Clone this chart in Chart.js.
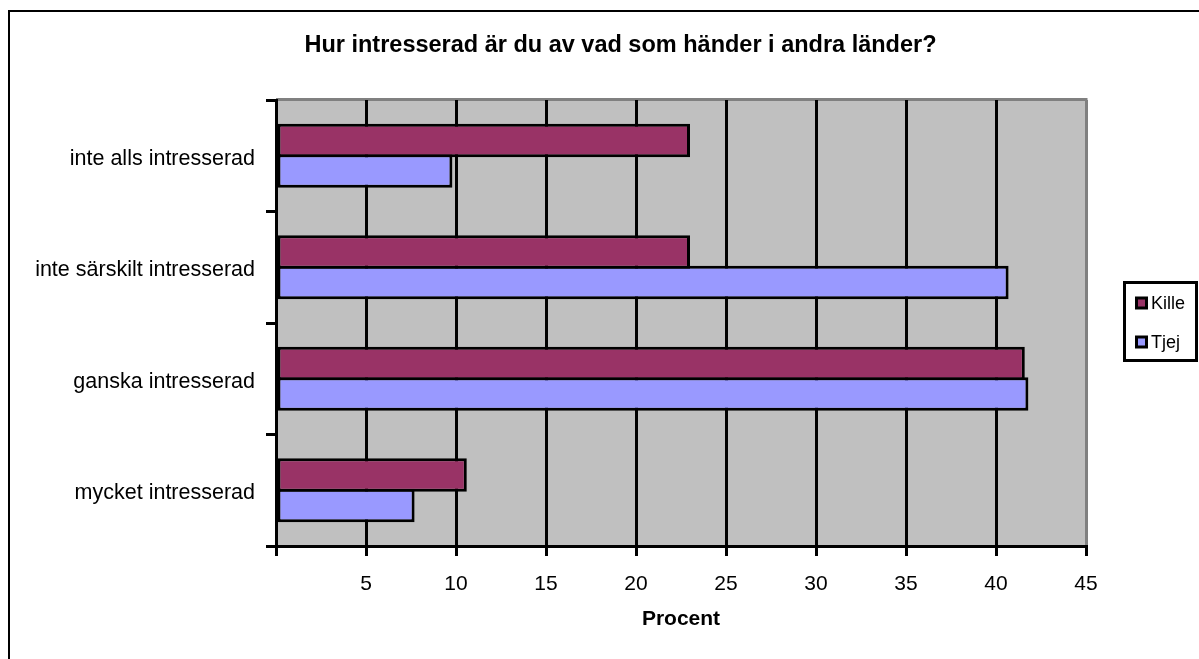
<!DOCTYPE html>
<html>
<head>
<meta charset="utf-8">
<script src="https://cdn.jsdelivr.net/npm/chart.js@4"></script>
<style>
  html, body { margin: 0; padding: 0; background: #fff; }
  #wrap { width: 1199px; height: 659px; position: relative; }
</style>
</head>
<body>
<div id="wrap"><canvas id="c" width="1199" height="659"></canvas></div>
<script>
const titleText = 'Hur intresserad är du av vad som händer i andra länder?';
const categories = ['inte alls intresserad', 'inte särskilt intresserad', 'ganska intresserad', 'mycket intresserad'];
const seriesNames = ['Kille', 'Tjej'];
const killeValues = [23.0, 23.0, 41.6, 10.6];
const tjejValues = [9.8, 40.7, 41.8, 7.7];
const xTicks = [0, 5, 10, 15, 20, 25, 30, 35, 40, 45];
const xTitle = 'Procent';
const colors = ['#993366', '#9999FF'];

const FONT = '"Liberation Sans", Arial, sans-serif';

const decor = {
  id: 'decor',
  beforeDraw(chart) {
    const ctx = chart.ctx, a = chart.chartArea;
    ctx.save();
    // outer frame (extends beyond the visible picture)
    ctx.strokeStyle = '#000';
    ctx.lineWidth = 2;
    ctx.strokeRect(9, 11, 1400, 1400);
    // plot background
    ctx.fillStyle = '#c0c0c0';
    ctx.fillRect(a.left, a.top, a.right - a.left, a.bottom - a.top);
    ctx.strokeStyle = '#808080';
    ctx.lineWidth = 3;
    ctx.beginPath();
    ctx.moveTo(a.left, a.top - 0.5);
    ctx.lineTo(a.right + 1.5, a.top - 0.5);
    ctx.stroke();
    ctx.restore();
  },
  afterDraw(chart) {
    const ctx = chart.ctx;
    ctx.save();
    ctx.strokeStyle = '#000';
    ctx.lineWidth = 3;
    ctx.strokeRect(1124.5, 282.5, 72, 78);
    const ys = [303, 342];
    chart.data.datasets.forEach((ds, i) => {
      const y = ys[i];
      ctx.fillStyle = '#000';
      ctx.fillRect(1135, y - 6.5, 13, 13);
      ctx.fillStyle = ds.backgroundColor;
      ctx.fillRect(1138, y - 3.5, 7, 7);
      ctx.fillStyle = '#000';
      ctx.font = '18px ' + FONT;
      ctx.textBaseline = 'middle';
      ctx.textAlign = 'left';
      ctx.fillText(ds.label, 1151, y + 1);
    });
    ctx.restore();
  }
};

new Chart(document.getElementById('c'), {
  type: 'bar',
  data: {
    labels: categories,
    datasets: [
      { label: seriesNames[0], data: killeValues, backgroundColor: colors[0], borderColor: '#000', borderWidth: 3, borderSkipped: false, categoryPercentage: 0.55, barPercentage: 1.09 },
      { label: seriesNames[1], data: tjejValues, backgroundColor: colors[1], borderColor: '#000', borderWidth: 3, borderSkipped: false, categoryPercentage: 0.55, barPercentage: 1.09 }
    ]
  },
  options: {
    indexAxis: 'y',
    responsive: false,
    animation: false,
    layout: { padding: { left: 155, right: 113, top: 0, bottom: 0 } },
    plugins: {
      legend: { display: false },
      tooltip: { enabled: false },
      title: {
        display: true,
        text: titleText,
        color: '#000',
        font: { family: FONT, size: 23.5, weight: 'bold', lineHeight: 1.2 },
        padding: { top: 31.5, bottom: 40.3 }
      }
    },
    scales: {
      x: {
        type: 'linear',
        min: 0, max: 45,
        afterBuildTicks(scale) { scale.ticks = xTicks.map(v => ({ value: v })); },
        afterFit(scale) { scale.height = 113; },
        ticks: {
          autoSkip: false,
          color: '#000',
          padding: 16,
          maxRotation: 0,
          font: { family: FONT, size: 21 },
          callback: (v) => v === 0 ? '' : String(v)
        },
        grid: {
          color: (c) => (c.tick && c.tick.value === 45) ? '#808080' : '#000',
          tickColor: '#000',
          lineWidth: 3,
          tickLength: 10,
          drawTicks: true
        },
        border: { display: true, color: '#000', width: 3 },
        title: {
          display: true,
          text: xTitle,
          color: '#000',
          font: { family: FONT, size: 21, weight: 'bold', lineHeight: 1.2 },
          padding: { top: 0, bottom: 27 }
        }
      },
      y: {
        afterFit(scale) {
          scale.width = 121;
          // let the long category labels extend into the left padding
          scale._computeLabelArea = function () { return undefined; };
        },
        ticks: {
          color: '#000',
          padding: 11,
          labelOffset: 3,
          font: { family: FONT, size: 21.5 }
        },
        grid: {
          offset: true,
          drawOnChartArea: false,
          drawTicks: true,
          tickLength: 10,
          color: '#000',
          lineWidth: 3
        },
        border: { display: true, color: '#000', width: 3 }
      }
    }
  },
  plugins: [decor]
});
</script>
</body>
</html>
